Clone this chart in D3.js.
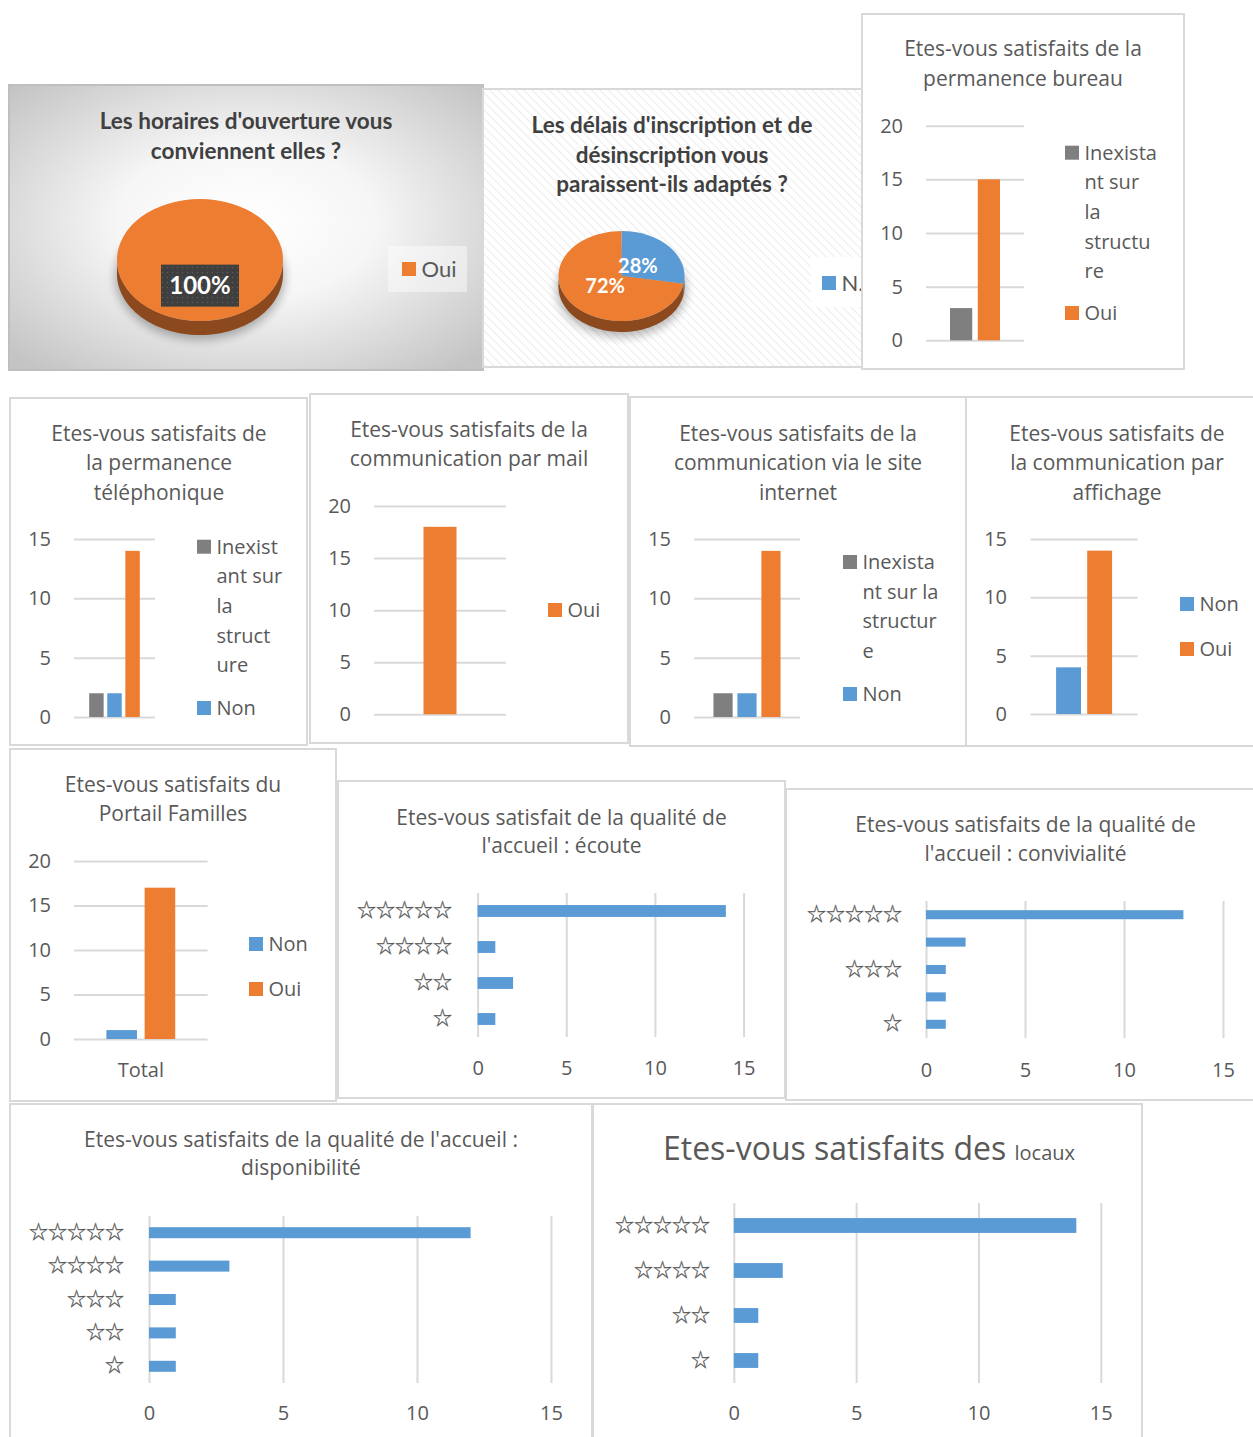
<!DOCTYPE html>
<html>
<head>
	<meta charset="utf-8">
	<title>Enquête de satisfaction</title>
	<style>
		body { margin: 0; background: #fff; }
		svg { display: block; }
	</style>
</head>
<body>
<script src="https://cdn.jsdelivr.net/npm/d3@7"></script>
<script>
	// ---- data ----
	// pies
	const horairesLabels = ["Oui"]
	const horairesValues = [18]
	const delaisLabels = ["Non", "Oui"]
	const delaisValues = [5, 13]

	// column charts (one category "Total")
	const columnCategory = "Total"
	const bureauSeries = ["Inexistant sur la structure", "Oui"]
	const bureauValues = [3, 15]
	const telephoneSeries = ["Inexistant sur la structure", "Non", "Oui"]
	const telephoneValues = [2, 2, 14]
	const mailSeries = ["Oui"]
	const mailValues = [18]
	const siteSeries = ["Inexistant sur la structure", "Non", "Oui"]
	const siteValues = [2, 2, 14]
	const affichageSeries = ["Non", "Oui"]
	const affichageValues = [4, 14]
	const portailSeries = ["Non", "Oui"]
	const portailValues = [1, 17]

	// bar charts (stars)
	const ecouteStars = ["☆☆☆☆☆", "☆☆☆☆", "☆☆", "☆"]
	const ecouteValues = [14, 1, 2, 1]
	const convivialiteStars = ["☆☆☆☆☆", "☆☆☆☆", "☆☆☆", "☆☆", "☆"]
	const convivialiteValues = [13, 2, 1, 1, 1]
	const disponibiliteStars = ["☆☆☆☆☆", "☆☆☆☆", "☆☆☆", "☆☆", "☆"]
	const disponibiliteValues = [12, 3, 1, 1, 1]
	const locauxStars = ["☆☆☆☆☆", "☆☆☆☆", "☆☆", "☆"]
	const locauxValues = [14, 2, 1, 1]

	// tick labels
	const ticks15 = [0, 5, 10, 15]
	const ticks20 = [0, 5, 10, 15, 20]

	// ---- style ----
	const W = 1253, H = 1437
	const colors = { "Inexistant sur la structure": "#7f7f7f", "Non": "#5b9bd5", "Oui": "#ed7d31" }
	const txt = "#595959", grid = "#d9d9d9"
	const font = "'Open Sans', 'Noto Sans', sans-serif"
	const starFont = "'Noto Sans CJK JP', 'DejaVu Sans', sans-serif"
	const pieFont = "Lato, 'Open Sans', sans-serif"

	const svg = d3.select("body").append("svg")
		.attr("width", W)
		.attr("height", H)
	const defs = svg.append("defs")

	// grey radial background of the first pie
	const rg = defs.append("radialGradient").attr("id", "bgGray")
		.attr("cx", "50%").attr("cy", "48%").attr("r", "68%")
	rg.append("stop").attr("offset", "0").attr("stop-color", "#ffffff")
	rg.append("stop").attr("offset", "0.4").attr("stop-color", "#f6f6f6")
	rg.append("stop").attr("offset", "1").attr("stop-color", "#c4c4c4")

	// hatch for the second pie
	const hatch = defs.append("pattern").attr("id", "hatch")
		.attr("patternUnits", "userSpaceOnUse").attr("width", 6).attr("height", 6)
		.attr("patternTransform", "rotate(-45)")
	hatch.append("rect").attr("width", 6).attr("height", 6).attr("fill", "#fff")
	hatch.append("line").attr("x1", 0).attr("y1", 0).attr("x2", 0).attr("y2", 6)
		.attr("stroke", "#ececec").attr("stroke-width", 2)

	// dotted dark label box
	const dots = defs.append("pattern").attr("id", "dots")
		.attr("patternUnits", "userSpaceOnUse").attr("width", 5).attr("height", 5)
	dots.append("rect").attr("width", 5).attr("height", 5).attr("fill", "#3f3f3f")
	dots.append("circle").attr("cx", 2.5).attr("cy", 2.5).attr("r", 0.7).attr("fill", "#5c5c5c")

	defs.append("filter").attr("id", "blur").attr("x", "-30%").attr("y", "-30%").attr("width", "160%").attr("height", "160%")
		.append("feGaussianBlur").attr("stdDeviation", 5)

	// ---- helpers ----
	const panel = (box, fill, stroke) => svg.append("rect")
		.attr("x", box[0]).attr("y", box[1])
		.attr("width", box[2]).attr("height", box[3])
		.attr("fill", fill || "#fff")
		.attr("stroke", stroke || "#d9d9d9")
		.attr("stroke-width", 2)

	const drawTitle = (lines, cx, ys, size) => {
		let g = svg.append("g")
			.attr("font-family", font)
			.attr("font-size", size || 21)
			.attr("fill", txt)
			.attr("text-anchor", "middle")
		lines.forEach((l, i) => g.append("text")
			.attr("x", cx).attr("y", ys[i]).attr("dy", "0.35em").text(l))
	}

	const styleAxis = (a) => {
		a.select(".domain").remove()
		a.attr("font-family", font).attr("font-size", 20)
		a.selectAll("line").attr("stroke", grid).attr("stroke-width", 2)
		a.selectAll("text").attr("fill", txt)
	}

	// ---- column chart ----
	function drawColumns(c) {
		panel(c.box)
		drawTitle(c.title, c.titleX, c.titleY)
		let g = svg.append("g").attr("font-family", font)

		let y = d3.scaleLinear().domain([0, c.max]).range(c.yRange)
		let x0 = d3.scaleBand().domain([columnCategory]).range(c.xRange)
			.paddingInner(0).paddingOuter(c.pad)
		let x1 = d3.scaleBand().domain(c.series).range([0, x0.bandwidth()]).paddingInner(0.2)

		// gridlines + value labels
		g.append("g")
			.attr("transform", `translate(${c.xRange[0]},0)`)
			.call(d3.axisLeft(y).tickValues(c.ticks)
				.tickSize(-(c.xRange[1] - c.xRange[0]))
				.tickPadding(c.xRange[0] - c.labelX))
			.call(styleAxis)

		// bars
		g.selectAll("rect.bar")
			.data(c.series.map((s, i) => ({ s: s, v: c.values[i] })))
			.enter().append("rect")
				.attr("class", "bar")
				.attr("x", d => x0(columnCategory) + x1(d.s))
				.attr("y", d => y(d.v))
				.attr("width", x1.bandwidth())
				.attr("height", d => y(0) - y(d.v))
				.attr("fill", d => colors[d.s])

		if (c.categoryY) {
			g.append("text")
				.attr("x", x0(columnCategory) + x0.bandwidth() / 2)
				.attr("y", c.categoryY).attr("dy", "0.35em")
				.attr("text-anchor", "middle").attr("font-size", 20).attr("fill", txt)
				.text(columnCategory)
		}

		// legend (wrapped like the original, some entries cut off)
		c.legend.forEach(e => {
			g.append("rect")
				.attr("x", c.legendX).attr("y", e.y - 7)
				.attr("width", 14).attr("height", 14)
				.attr("fill", colors[c.series[e.s]])
			e.lines.forEach((l, i) => g.append("text")
				.attr("x", c.legendX + 19.5).attr("y", e.y + i * 29.6).attr("dy", "0.35em")
				.attr("font-size", 20).attr("fill", txt).text(l))
		})
	}

	// ---- horizontal bar chart ----
	function drawBars(c) {
		panel(c.box)
		if (c.title) drawTitle(c.title, c.titleX, c.titleY)
		let g = svg.append("g").attr("font-family", font)

		let x = d3.scaleLinear().domain([0, 15]).range(c.xRange)
		let y = d3.scaleBand().domain(c.cats).range(c.yRange)
			.paddingInner(0.67).paddingOuter(0.335)

		g.append("g")
			.attr("transform", `translate(0,${c.yRange[1]})`)
			.call(d3.axisBottom(x).tickValues(ticks15)
				.tickSize(-(c.yRange[1] - c.yRange[0]))
				.tickPadding(c.tickY - c.yRange[1]))
			.call(styleAxis)
			.call(a => a.selectAll("text").attr("dy", "0.35em"))

		// star labels
		g.append("g")
			.attr("transform", `translate(${c.xRange[0]},0)`)
			.call(d3.axisLeft(y).tickSize(0)
				.tickPadding(c.xRange[0] - c.labelX)
				.tickFormat((d, i) => (c.everyOther && i % 2) ? "" : d))
			.call(a => {
				a.select(".domain").remove()
				a.attr("font-family", starFont).attr("font-size", 19)
				a.selectAll("text").attr("fill", "#555").attr("stroke", "#555").attr("stroke-width", 0.25)
			})

		g.selectAll("rect.bar")
			.data(c.cats.map((s, i) => ({ s: s, v: c.values[i] })))
			.enter().append("rect")
				.attr("class", "bar")
				.attr("x", x(0))
				.attr("y", d => y(d.s))
				.attr("width", d => x(d.v) - x(0))
				.attr("height", y.bandwidth())
				.attr("fill", "#5b9bd5")
	}

	// ---- 3D pie ----
	function drawPie(c) {
		panel(c.box, c.fill, c.stroke)
		let tg = svg.append("g")
			.attr("font-family", pieFont).attr("font-weight", "bold")
			.attr("font-size", 22.5).attr("fill", "#404040").attr("text-anchor", "middle")
		c.title.forEach((l, i) => tg.append("text")
			.attr("x", c.titleX).attr("y", c.titleY[i]).attr("dy", "0.35em").text(l))

		let data = c.labels.map((l, i) => ({ l: l, v: c.values[i] }))
		let arcs = d3.pie().sort(null).value(d => d.v)(data)
		let total = d3.sum(c.values)
		let k = c.ry / c.rx
		let g = svg.append("g")

		// soft shadow
		g.append("ellipse")
			.attr("cx", c.cx).attr("cy", c.cy + c.depth + 3)
			.attr("rx", c.rx + 2).attr("ry", c.ry + 2)
			.attr("fill", "#000").attr("opacity", 0.28).attr("filter", "url(#blur)")

		// side wall: only the front half is visible
		const pt = (t, dz) => [c.cx + c.rx * Math.sin(t), c.cy - c.ry * Math.cos(t) + dz]
		arcs.forEach(a => {
			let a0 = Math.max(a.startAngle, Math.PI / 2)
			let a1 = Math.min(a.endAngle, Math.PI * 1.5)
			if (a1 <= a0) return
			let p = d3.path()
			let n = 60
			for (let i = 0; i <= n; i++) {
				let q = pt(a0 + (a1 - a0) * i / n, 0)
				i === 0 ? p.moveTo(q[0], q[1]) : p.lineTo(q[0], q[1])
			}
			for (let i = n; i >= 0; i--) {
				let q = pt(a0 + (a1 - a0) * i / n, c.depth)
				p.lineTo(q[0], q[1])
			}
			p.closePath()
			g.append("path").attr("d", p.toString())
				.attr("fill", d3.color(colors[a.data.l]).darker(1.5))
		})

		// top face
		let arc = d3.arc().innerRadius(0).outerRadius(c.rx)
		g.append("g")
			.attr("transform", `translate(${c.cx},${c.cy}) scale(1,${k})`)
			.selectAll("path")
			.data(arcs).enter()
			.append("path")
				.attr("d", arc)
				.attr("fill", d => colors[d.data.l])

		// percentage labels
		let lab = d3.arc().innerRadius(c.rx * c.labelR).outerRadius(c.rx * c.labelR)
		arcs.forEach(a => {
			let [px, py] = lab.centroid(a)
			let x = c.cx + px, y = c.cy + py * k
			if (c.labelBox) {
				g.append("rect").attr("x", x - 39).attr("y", y - 21)
					.attr("width", 78).attr("height", 42).attr("fill", "url(#dots)")
			}
			g.append("text")
				.attr("x", x).attr("y", y).attr("dy", "0.35em")
				.attr("text-anchor", "middle")
				.attr("font-family", pieFont).attr("font-weight", "bold")
				.attr("font-size", c.labelSize).attr("fill", "#fff")
				.text(d3.format(".0%")(a.data.v / total))
		})

		// legend
		let lg = c.legend
		svg.append("rect").attr("x", lg.box[0]).attr("y", lg.box[1])
			.attr("width", lg.box[2]).attr("height", lg.box[3])
			.attr("fill", "#fff").attr("opacity", lg.opacity)
		svg.append("rect").attr("x", lg.x).attr("y", lg.y - 7)
			.attr("width", 14).attr("height", 14).attr("fill", colors[c.labels[0]])
		svg.append("text").attr("x", lg.x + 19.5).attr("y", lg.y).attr("dy", "0.35em")
			.attr("font-family", pieFont).attr("font-size", 22).attr("fill", txt)
			// the second pie's legend is truncated by the frame in the original
			.text(lg.truncate ? c.labels[0].slice(0, 1) + "." : c.labels[0])
	}

	// ---- layout ----
	drawPie({
		box: [9, 85, 474, 285], fill: "url(#bgGray)", stroke: "#bfbfbf",
		title: ["Les horaires d'ouverture vous", "conviennent elles ?"], titleX: 246, titleY: [121, 151],
		labels: horairesLabels, values: horairesValues,
		cx: 200, cy: 260, rx: 83, ry: 61, depth: 14,
		labelR: 0.42, labelBox: true, labelSize: 24,
		legend: { box: [388, 246, 79, 46], opacity: 0.45, x: 402, y: 269 }
	})
	drawPie({
		box: [483, 89, 380, 278], fill: "url(#hatch)",
		title: ["Les délais d'inscription et de", "désinscription vous", "paraissent-ils adaptés ?"],
		titleX: 672, titleY: [125, 155, 184],
		labels: delaisLabels, values: delaisValues,
		cx: 621.5, cy: 276, rx: 63, ry: 45, depth: 11,
		labelR: 0.34, labelBox: false, labelSize: 20,
		legend: { box: [811, 257, 51, 50], opacity: 1, x: 822, y: 283, truncate: true }
	})

	drawColumns({
		box: [862, 14, 322, 355],
		title: ["Etes-vous satisfaits de la", "permanence bureau"], titleX: 1023, titleY: [49, 79],
		series: bureauSeries, values: bureauValues,
		max: 20, ticks: ticks20, yRange: [340.3, 125.7], xRange: [926, 1024], labelX: 903, pad: 0.48,
		legendX: 1065,
		legend: [{ s: 0, y: 152.7, lines: ["Inexista", "nt sur", "la", "structu", "re"] }, { s: 1, y: 313, lines: ["Oui"] }]
	})

	drawColumns({
		box: [10, 398, 297, 347],
		title: ["Etes-vous satisfaits de", "la permanence", "téléphonique"], titleX: 159, titleY: [434, 463, 493],
		series: telephoneSeries, values: telephoneValues,
		max: 15, ticks: ticks15, yRange: [717, 539], xRange: [74, 155], labelX: 51, pad: 0.3,
		legendX: 197,
		legend: [{ s: 0, y: 546.7, lines: ["Inexist", "ant sur", "la", "struct", "ure"] }, { s: 1, y: 708, lines: ["Non"] }]
	})
	drawColumns({
		box: [310, 394, 318, 349],
		title: ["Etes-vous satisfaits de la", "communication par mail"], titleX: 469, titleY: [430, 459],
		series: mailSeries, values: mailValues,
		max: 20, ticks: ticks20, yRange: [714.3, 506], xRange: [374, 506], labelX: 351, pad: 1.1,
		legendX: 548,
		legend: [{ s: 0, y: 610, lines: ["Oui"] }]
	})
	drawColumns({
		box: [630, 397, 336, 349],
		title: ["Etes-vous satisfaits de la", "communication via le site", "internet"], titleX: 798, titleY: [434, 463, 493],
		series: siteSeries, values: siteValues,
		max: 15, ticks: ticks15, yRange: [717, 539], xRange: [694, 800], labelX: 671, pad: 0.29,
		legendX: 843,
		legend: [{ s: 0, y: 562, lines: ["Inexista", "nt sur la", "structur", "e"] }, { s: 1, y: 694, lines: ["Non"] }]
	})
	drawColumns({
		box: [966, 397, 300, 349],
		title: ["Etes-vous satisfaits de", "la communication par", "affichage"], titleX: 1117, titleY: [434, 463, 493],
		series: affichageSeries, values: affichageValues,
		max: 15, ticks: ticks15, yRange: [714, 539], xRange: [1030.6, 1137.6], labelX: 1007, pad: 0.455,
		legendX: 1180,
		legend: [{ s: 0, y: 604, lines: ["Non"] }, { s: 1, y: 649, lines: ["Oui"] }]
	})

	drawColumns({
		box: [10, 749, 326, 352],
		title: ["Etes-vous satisfaits du", "Portail Familles"], titleX: 173, titleY: [785, 814],
		series: portailSeries, values: portailValues,
		max: 20, ticks: ticks20, yRange: [1039, 861], xRange: [74, 207.6], labelX: 51, pad: 0.47,
		categoryY: 1070,
		legendX: 249,
		legend: [{ s: 0, y: 944, lines: ["Non"] }, { s: 1, y: 989, lines: ["Oui"] }]
	})
	drawBars({
		box: [338, 781, 447, 317],
		title: ["Etes-vous satisfait de la qualité de", "l'accueil : écoute"], titleX: 561.5, titleY: [817.7, 845.7],
		cats: ecouteStars, values: ecouteValues,
		xRange: [477.6, 743.6], yRange: [893, 1037], labelX: 452, tickY: 1068
	})
	drawBars({
		box: [786, 789, 480, 311],
		title: ["Etes-vous satisfaits de la qualité de", "l'accueil : convivialité"], titleX: 1025.5, titleY: [825, 854],
		cats: convivialiteStars, values: convivialiteValues, everyOther: true,
		xRange: [926, 1223], yRange: [901, 1038], labelX: 902, tickY: 1070
	})

	drawBars({
		box: [10, 1104, 582, 345],
		title: ["Etes-vous satisfaits de la qualité de l'accueil :", "disponibilité"], titleX: 301, titleY: [1140, 1168],
		cats: disponibiliteStars, values: disponibiliteValues,
		xRange: [149, 551], yRange: [1216, 1383], labelX: 124, tickY: 1413
	})
	drawBars({
		box: [593, 1104, 549, 345],
		cats: locauxStars, values: locauxValues,
		xRange: [733.8, 1100.8], yRange: [1203, 1383], labelX: 710, tickY: 1413
	})
	// title with two sizes, as in the original
	let lt = svg.append("text")
		.attr("x", 869).attr("y", 1160)
		.attr("text-anchor", "middle")
		.attr("font-family", font).attr("fill", txt)
	lt.append("tspan").attr("font-size", 32).text("Etes-vous satisfaits des ")
	lt.append("tspan").attr("font-size", 20).text("locaux")
</script>
</body>
</html>
